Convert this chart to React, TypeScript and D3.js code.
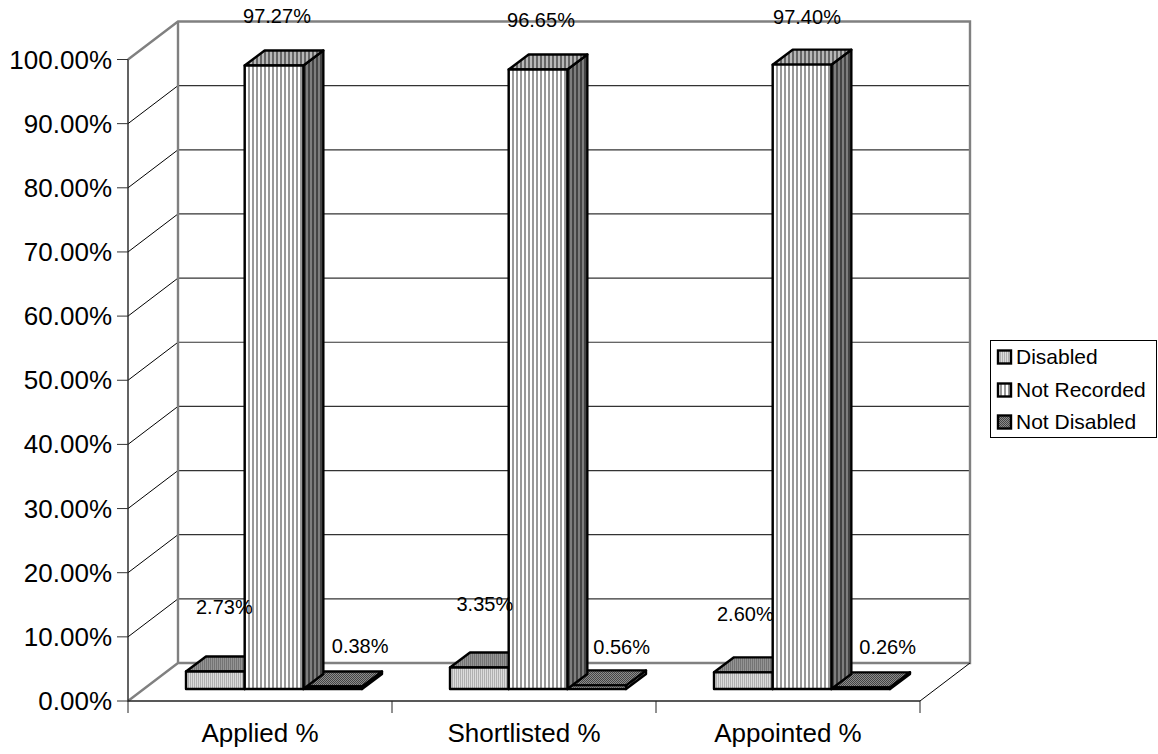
import React from "react";
import * as d3 from "d3";

const categories = ["Applied %", "Shortlisted %", "Appointed %"];
const seriesNames = ["Disabled", "Not Recorded", "Not Disabled"];
const disabled = [2.73, 3.35, 2.6];
const notRecorded = [97.27, 96.65, 97.4];
const notDisabled = [0.38, 0.56, 0.26];
const valueTicks = d3.range(0, 101, 10);
const seriesValues = [disabled, notRecorded, notDisabled];

// label nudges from each bar's top-front, per series then category [dx from bar centre, dy]
const labelNudge = [
  [[0, -65], [-3.5, -63.5], [-7, -58]],
  [[3, -49], [3, -49], [5, -48]],
  [[-1.5, -41], [-4, -38], [-2, -40]],
];

const F = "'Liberation Sans', Arial, sans-serif";
const left = 128, right = 920, floorY = 701, topY = 59.5;
const depthX = 50, depthY = -38;
const barDX = 20, barDY = -15;
const barBase = 689;

const yAxis = d3.scaleLinear().domain([0, 100]).range([floorY, topY]);
const yBar = d3.scaleLinear().domain([0, 100]).range([barBase, barBase - 641]);
const xCat = d3.scaleBand<string>().domain(categories).range([left, right]);
const xSeries = d3.scaleBand<string>().domain(seriesNames).range([58, 58 + 176]);

const poly = (pts: number[][]) => d3.line()(pts as [number, number][]) + "Z";

function stripes(id: string, period: number, on: number, a: string, b: string) {
  return (
    <pattern key={id} id={id} width={period} height={4} patternUnits="userSpaceOnUse">
      <rect width={period} height={4} fill={a} />
      <rect width={on} height={4} fill={b} />
    </pattern>
  );
}

function checker(id: string, a: string, b: string) {
  return (
    <pattern key={id} id={id} width={2} height={2} patternUnits="userSpaceOnUse">
      <rect width={2} height={2} fill={a} />
      <rect width={1} height={1} fill={b} />
      <rect x={1} y={1} width={1} height={1} fill={b} />
    </pattern>
  );
}

const fills = [
  { front: "url(#dFront)", top: "url(#dTop)", side: "url(#dSide)", legend: "url(#dFront)" },
  { front: "url(#nFront)", top: "url(#nTop)", side: "url(#nSide)", legend: "url(#nFront)" },
  { front: "url(#xFront)", top: "url(#xTop)", side: "url(#xTop)", legend: "url(#xTop)" },
];

function Bar({ x, w, y0, y1, fill }: { x: number; w: number; y0: number; y1: number; fill: typeof fills[0] }) {
  const s = { stroke: "#000", strokeWidth: 2.4, strokeLinejoin: "round" as const };
  return (
    <g>
      <path d={poly([[x + w, y1], [x + w + barDX, y1 + barDY], [x + w + barDX, y0 + barDY], [x + w, y0]])} fill={fill.side} {...s} />
      <path d={poly([[x, y1], [x + barDX, y1 + barDY], [x + w + barDX, y1 + barDY], [x + w, y1]])} fill={fill.top} {...s} />
      <rect x={x} y={y1} width={w} height={y0 - y1} fill={fill.front} {...s} />
    </g>
  );
}

export default function App() {
  const bw = xSeries.bandwidth();
  const order = [0, 2, 1];
  const legendY = [357, 390, 422];
  return (
    <svg width={1158} height={754} style={{ position: "absolute", left: 0, top: 0, background: "#fff" }}>
      <defs>
        {stripes("dFront", 2, 1, "#dcdcdc", "#b0b0b0")}
        {stripes("dTop", 2, 1, "#949494", "#747474")}
        {stripes("dSide", 2, 1, "#606060", "#404040")}
        {stripes("nFront", 4, 2, "#ffffff", "#999999")}
        {stripes("nTop", 4, 2, "#b8b8b8", "#666666")}
        {stripes("nSide", 4, 2, "#7e7e7e", "#444444")}
        {checker("xFront", "#b0b0b0", "#666666")}
        {checker("xTop", "#8c8c8c", "#444444")}
      </defs>

      {/* gridlines on side and back walls */}
      {valueTicks.slice(1, -1).map((t) => (
        <g key={t} fill="none">
          <path d={`M${left},${yAxis(t)}L${left + depthX},${yAxis(t) + depthY}`} stroke="#000" strokeWidth={1} />
          <path d={`M${left + depthX},${yAxis(t) + depthY}H${right + depthX}`} stroke="#333" strokeWidth={1.2} />
        </g>
      ))}

      {/* walls */}
      <path
        d={`M${left},${floorY}L${left + depthX},${floorY + depthY}H${right + depthX}V${topY + depthY}H${left + depthX}L${left},${topY}M${left + depthX},${topY + depthY}V${floorY + depthY}`}
        fill="none" stroke="#808080" strokeWidth={2.4}
      />
      <path d={`M${right},${floorY}L${right + depthX},${floorY + depthY}`} stroke="#000" strokeWidth={1} />

      {/* axes */}
      <path d={`M${left},${topY}V${floorY}H${right}`} fill="none" stroke="#222" strokeWidth={1.4} />
      {valueTicks.map((t) => (
        <g key={t}>
          <line x1={left - 11} x2={left} y1={yAxis(t)} y2={yAxis(t)} stroke="#333" strokeWidth={1} />
          <text x={112} y={yAxis(t) + 9} textAnchor="end" fontFamily={F} fontSize={26} fill="#000">
            {t.toFixed(2)}%
          </text>
        </g>
      ))}
      {[...categories.map((c) => xCat(c)!), right].map((x) => (
        <line key={x} x1={x} x2={x} y1={floorY} y2={floorY + 12} stroke="#222" strokeWidth={1} />
      ))}
      {categories.map((c) => (
        <text key={c} x={xCat(c)! + xCat.bandwidth() / 2} y={742} textAnchor="middle" fontFamily={F} fontSize={26} fill="#000">
          {c}
        </text>
      ))}

      {/* bars */}
      {categories.map((c, ci) =>
        order.map((si) => (
          <Bar
            key={c + si}
            x={xCat(c)! + xSeries(seriesNames[si])!}
            w={bw}
            y0={yBar(0)}
            y1={yBar(seriesValues[si][ci])}
            fill={fills[si]}
          />
        ))
      )}

      {/* data labels */}
      {categories.map((c, ci) =>
        seriesNames.map((n, si) => (
          <text
            key={c + n}
            x={xCat(c)! + xSeries(n)! + bw / 2 + labelNudge[si][ci][0] + (si === 2 ? 29 : si === 0 ? 9 : 0)}
            y={yBar(seriesValues[si][ci]) + labelNudge[si][ci][1] + 7}
            textAnchor="middle"
            fontFamily={F}
            fontSize={20}
            fill="#000"
          >
            {seriesValues[si][ci].toFixed(2)}%
          </text>
        ))
      )}

      {/* legend */}
      <rect x={990.5} y={340.5} width={166} height={97} fill="#fff" stroke="#000" strokeWidth={1} />
      {seriesNames.map((n, i) => (
        <g key={n}>
          <rect x={998} y={legendY[i] - 6.5} width={13} height={13} fill={fills[i].legend} stroke="#000" strokeWidth={2.4} />
          <text x={1016} y={legendY[i] + 7} fontFamily={F} fontSize={21} fill="#000">
            {n}
          </text>
        </g>
      ))}
    </svg>
  );
}
